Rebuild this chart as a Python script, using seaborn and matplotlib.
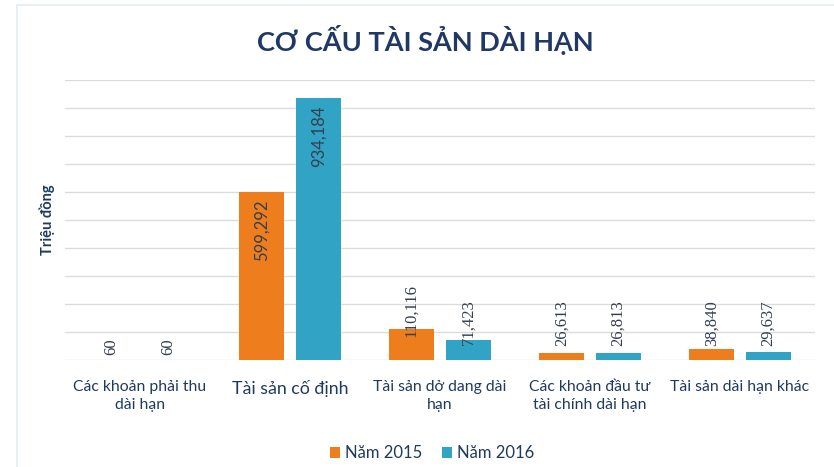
import pandas as pd
import matplotlib.pyplot as plt
import seaborn as sns

# Data (triệu đồng)
categories = ["Các khoản phải thu\ndài hạn", "Tài sản cố định", "Tài sản dở dang dài\nhạn",
              "Các khoản đầu tư\ntài chính dài hạn", "Tài sản dài hạn khác"]
years = ["Năm 2015", "Năm 2016"]
values_2015 = [60, 599292, 110116, 26613, 38840]
values_2016 = [60, 934184, 71423, 26813, 29637]

df = pd.DataFrame({
    "cat": categories * 2,
    "year": [years[0]] * 5 + [years[1]] * 5,
    "value": values_2015 + values_2016,
})

sns.set_style("white")
plt.rcParams["font.family"] = ["Lato", "DejaVu Sans"]

navy = "#1F3A5F"
fig = plt.figure(figsize=(8.34, 4.67), dpi=100)
ax = fig.add_axes([0.078, 0.229, 0.899, 0.60])

# faint chart frame
fig.patches.append(plt.Rectangle((0.02, -0.05), 1.2, 1.04, transform=fig.transFigure,
                                 fill=False, edgecolor="#E3ECF4", linewidth=1.2))

sns.barplot(data=df, x="cat", y="value", hue="year", ax=ax,
            palette=["#EE7D1E", "#31A3C4"], width=0.76, gap=0.2,
            saturation=1, edgecolor="none")

ax.set_ylim(0, 1000000)
ax.set_yticks(range(0, 1000001, 100000))
ax.set_yticklabels([])
ax.grid(axis="y", color="#DCDCDC", linewidth=1)
ax.set_axisbelow(True)
sns.despine(ax=ax, left=True, bottom=True)
ax.tick_params(axis="both", length=0)
ax.tick_params(axis="x", pad=14)
for lbl in ax.get_xticklabels():
    lbl.set_color(navy)
    lbl.set_fontsize(11.3)
    lbl.set_linespacing(1.45)
ax.get_xticklabels()[1].set_fontsize(12.8)
ax.set_xlabel("")
ax.set_ylabel("Triệu đồng", fontsize=10.5, fontweight="bold", color=navy, labelpad=4)

# Data labels
for cont in ax.containers:
    for bar, v in zip(cont, cont.datavalues):
        x = bar.get_x() + bar.get_width() / 2
        txt = f"{int(v):,}"
        if v > 300000:
            ax.text(x, v - 25000, txt, rotation=90, ha="center", va="top",
                    fontsize=12, color="#333F4F")
        else:
            y = 18000 if v < 1000 else max(v * 0.75, 50000)
            ax.text(x, y, txt, rotation=90, ha="center", va="bottom",
                    fontsize=12, color="#333F4F", family="Liberation Serif")

ax.legend(loc="upper center", bbox_to_anchor=(0.49, -0.25), ncol=2, frameon=False,
          fontsize=12, handlelength=0.6, handleheight=0.6, handletextpad=0.3,
          columnspacing=1.2, labelcolor=navy)

fig.text(0.51, 0.915, "CƠ CẤU TÀI SẢN DÀI HẠN", ha="center", va="center",
         fontsize=19.5, fontweight="bold", color="#1F3864")

fig.savefig("out.png", dpi=100)
